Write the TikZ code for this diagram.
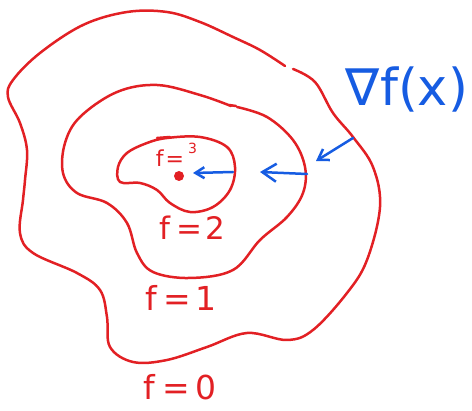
\documentclass[tikz,border=0pt]{standalone}
\usepackage{fontspec}
\setmainfont{DejaVu Sans}
\usetikzlibrary{arrows.meta}
\definecolor{pen}{RGB}{226,32,36}
\definecolor{ink}{RGB}{22,92,226}
\begin{document}
\begin{tikzpicture}[x=1pt,y=-1pt,
  contour/.style={pen, line width=2.5pt, line cap=round, line join=round},
  grad/.style={ink, line width=2.5pt, line cap=round},
  lab/.style={pen, inner sep=0pt}]
\useasboundingbox (0,0) rectangle (472,411);
% f = 0 contour (open, small gap at top right)
\draw[contour] plot[smooth, tension=0.6] coordinates {(285,66) (260,50) (233,37) (200,22) (167,12) (127,12) (83,25) (40,53) (13,80) (8,97) (20,123) (27,150) (25,180) (23,200) (20,233) (33,253) (77,273) (100,290) (107,317) (110,347) (133,362) (167,360) (207,347) (247,333) (287,340) (313,330) (347,293) (367,260) (380,207) (373,167) (353,137) (333,113) (315,82) (293,69)};
% f = 1 contour
\draw[contour] plot[smooth, tension=0.6] coordinates {(231,106) (200,95) (157,85) (117,92) (80,117) (65,143) (63,173) (77,193) (107,203) (127,223) (137,253) (153,272) (190,278) (233,270) (260,240) (287,217) (303,193) (305,167) (293,140) (267,117) (237,107)};
\draw[contour] (229,105) -- (236,106);
% f = 2 contour
\draw[contour] plot[smooth cycle, tension=0.6] coordinates {(167,138) (200,137) (227,147) (235,167) (230,190) (213,207) (190,212) (170,203) (157,190) (140,183) (120,182) (118,167) (127,153) (147,143)};
\draw[contour] (157,138) -- (170,137);
% maximum point
\node[circle, fill=pen, minimum size=10pt, inner sep=0pt] (xmax) at (179,176) {};
% gradient arrows
\coordinate (a1s) at (233,172);
\coordinate (a1e) at (193,173);
\coordinate (a2s) at (307,174);
\coordinate (a2e) at (260,172);
\coordinate (a3s) at (353,138);
\coordinate (a3e) at (316,161);
\draw[grad, -{Straight Barb[length=9pt,width=11pt,line width=2.5pt]}] (a1s) -- (a1e);
\draw[grad, -{Straight Barb[length=14pt,width=18pt,line width=2.5pt]}] (a2s) -- (a2e);
\draw[grad, -{Straight Barb[length=10pt,width=13pt,line width=2.5pt]}] (a3s) -- (a3e);
% labels
\node[lab, font=\fontsize{22}{22}\selectfont] (l3) at (170,158) {f\hspace{2pt}=};
\node[lab, font=\fontsize{14}{14}\selectfont, anchor=west] (l3n) at (188,148) {3};
\node[lab, font=\fontsize{31}{31}\selectfont] (l2) at (192,228) {f\hspace{6pt}=\hspace{3pt}2};
\node[lab, font=\fontsize{33}{33}\selectfont] (l1) at (181,298) {f\hspace{7pt}=\hspace{4pt}1};
\node[lab, font=\fontsize{33}{33}\selectfont] (l0) at (180,387) {f\hspace{7pt}=\hspace{5pt}0};
\node[ink, inner sep=0pt, font=\fontsize{51}{51}\selectfont] (grad) at (407,89) {∇f(x)};
\end{tikzpicture}
\end{document}
